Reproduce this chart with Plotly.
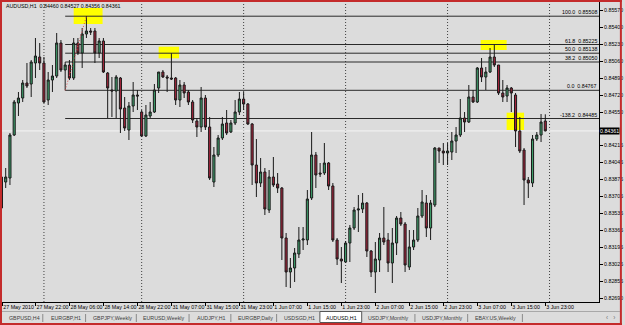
import plotly.graph_objects as go

# ---------------- data (AUDUSD H1, one value per bar, left to right) ----------------
opens = [.8390, .8385, .8389, .8432, .8464, .8469, .8484, .8483, .8504, .8510,
         .8504, .8467, .8487, .8491, .8524, .8497, .8502, .8489, .8524, .8514,
         .8533, .8536, .8536, .8514, .8526, .8494, .8477, .8476, .8489, .8459,
         .8437, .8461, .8472, .8455, .8431, .8451, .8455, .8479, .8495, .8490,
         .8489, .8489, .8467, .8482, .8475, .8465, .8446, .8440, .8469, .8440,
         .8385, .8412, .8429, .8444, .8435, .8444, .8455, .8468, .8463, .8443,
         .8402, .8384, .8395, .8357, .8390, .8383, .8379, .8329, .8295, .8299,
         .8313, .8327, .8327, .8369, .8412, .8394, .8394, .8404, .8381, .8327,
         .8308, .8305, .8324, .8339, .8357, .8358, .8364, .8316, .8295, .8307,
         .8329, .8327, .8304, .8324, .8349, .8343, .8300, .8320, .8327, .8351,
         .8364, .8339, .8362, .8419, .8416, .8414, .8415, .8426, .8432, .8449,
         .8445, .8470, .8465, .8499, .8490, .8495, .8510, .8502, .8474, .8471,
         .8479, .8472, .8436, .8417, .8387, .8384, .8428, .8432, .84460]
highs = [.8395, .8399, .8434, .8467, .8475, .8487, .8504, .8507, .8529, .8524,
         .8510, .8495, .8502, .8534, .8527, .8505, .8507, .8529, .8529, .8539,
         .85508, .8539, .8539, .8529, .8529, .8495, .8490, .8492, .8490, .8470,
         .8465, .8485, .8477, .8457, .8462, .8465, .8483, .8495, .8497, .8492,
         .85138, .8490, .8487, .8485, .8477, .8467, .8449, .8480, .8472, .8450,
         .8420, .8432, .8450, .8457, .8447, .8467, .8475, .8475, .8464, .8444,
         .8428, .8409, .8399, .8397, .8410, .8394, .8380, .8334, .8309, .8319,
         .8340, .8340, .8377, .8435, .8415, .8404, .8424, .8405, .8384, .8329,
         .8320, .8326, .8342, .8360, .8372, .8374, .8365, .8317, .8325, .8334,
         .8360, .8334, .8339, .8351, .8355, .8345, .8337, .8337, .8359, .8377,
         .8372, .8367, .8420, .8419, .8424, .8424, .8435, .8440, .8468, .8455,
         .8482, .8477, .8500, .8509, .8500, .8519, .85225, .8502, .8487, .8482,
         .8480, .8474, .8450, .8419, .8390, .8432, .8435, .8453, .84527]
lows = [.8355, .8379, .8382, .8431, .8451, .8465, .8479, .8470, .8489, .8497,
        .8464, .8462, .8475, .8489, .8495, .84767, .8487, .8487, .8512, .8499,
        .8529, .8532, .8504, .8509, .8494, .8449, .8450, .8449, .8434, .8436,
        .8427, .8455, .8457, .8430, .8430, .8449, .8454, .8474, .8489, .8475,
        .8487, .8462, .8460, .8469, .8462, .8444, .8430, .8435, .8437, .8387,
        .8380, .8410, .8427, .8432, .8434, .8442, .8452, .8457, .8442, .8382,
        .8370, .8380, .8352, .8354, .8380, .8374, .8307, .8280, .8279, .8285,
        .8309, .8317, .8322, .8367, .8379, .8390, .8392, .8377, .8325, .8302,
        .8284, .8304, .8305, .8337, .8335, .8354, .8310, .8290, .8274, .8295,
        .8322, .8295, .8284, .8312, .8341, .8295, .8297, .8317, .8325, .8349,
        .8330, .8327, .8360, .8404, .8402, .8402, .8407, .8414, .8430, .8435,
        .8444, .8464, .8464, .8485, .8477, .8494, .8500, .8472, .8465, .8465,
        .8455, .8420, .8414, .8362, .8369, .8380, .8426, .8425, .84356]
closes = [.8359, .8390, .8432, .8465, .8469, .8484, .8481, .8505, .8511, .8504,
          .8465, .8487, .8491, .8524, .8497, .8502, .8489, .8524, .8514, .8533,
          .8536, .8535, .8514, .8526, .8495, .8479, .8476, .8490, .8458, .8439,
          .8461, .8472, .8471, .8431, .8452, .8455, .8477, .8495, .8490, .8489,
          .8488, .8467, .8482, .8474, .8465, .8447, .8440, .8469, .8440, .8389,
          .8412, .8429, .8443, .8434, .8444, .8455, .8468, .8463, .8443, .8402,
          .8384, .8395, .8358, .8390, .8382, .8379, .8329, .8295, .8299, .8314,
          .8327, .8328, .8368, .8412, .8392, .8393, .8404, .8381, .8327, .8308,
          .8306, .8324, .8339, .8357, .8358, .8364, .8316, .8295, .8308, .8329,
          .8325, .8304, .8324, .8349, .8343, .8302, .8320, .8327, .8351, .8365,
          .8339, .8364, .8419, .8416, .8414, .8416, .8426, .8432, .8449, .8445,
          .8470, .8465, .8499, .8490, .8495, .8510, .8502, .8474, .8470, .8479,
          .8474, .8436, .8416, .8387, .8384, .8428, .8432, .8445, .84361]

time_tick_bars = [1.2, 9, 17, 25, 33, 41, 49, 57, 65, 73, 81, 89, 97, 105, 113, 121, 129]
time_tick_labels = ["27 May 2010", "27 May 22:00", "28 May 06:00", "28 May 14:00", "28 May 22:00",
                    "31 May 07:00", "31 May 15:00", "31 May 23:00", "1 Jun 07:00", "1 Jun 15:00",
                    "1 Jun 23:00", "2 Jun 07:00", "2 Jun 15:00", "2 Jun 23:00", "3 Jun 07:00",
                    "3 Jun 15:00", "3 Jun 23:00"]
day_start_bars = [11, 34, 58, 82, 106, 130]

# (0.84380 sits under the current-price box in the reference, so it is not shown)
price_ticks = [0.85570, 0.85400, 0.85230, 0.85060, 0.84890, 0.84720, 0.84550, 0.84215,
               0.84045, 0.83875, 0.83705, 0.83535, 0.83365, 0.83195, 0.83025, 0.82855, 0.82690]

fib_names = ["100.0", "61.8", "50.0", "38.2", "0.0", "-138.2"]
fib_levels = [0.85508, 0.85225, 0.85138, 0.85050, 0.84767, 0.84485]
fib_start_bar = 16
fib_anchor = [(16, 0.84767), (21, 0.85508)]

last_price = 0.84361
title_text = "AUDUSD,H1  0.84460 0.84527 0.84356 0.84361"

# highlighter boxes (bar from, bar to, price low, price high)
highlights = [(18.0, 24.8, 0.8543, 0.8559), (38.0, 42.8, 0.85087, 0.85203),
              (113.8, 119.9, 0.8517, 0.8527), (119.9, 124.0, 0.8437, 0.84543)]

tabs = ["GBPUSD,H4", "EURGBP,H1", "GBPJPY,Weekly", "EURUSD,Weekly", "AUDJPY,H1", "EURGBP,Daily",
        "USDSGD,H1", "AUDUSD,H1", "USDJPY,Monthly", "USDJPY,Monthly", "EBAY.US,Weekly"]
tab_text_x = [7, 49, 91, 142, 196, 237, 283, 326, 368, 422, 475]
tab_sep_x = [43, 86, 137, 190, 232, 278, 417, 470, 525]
active_tab = 7

# ---------------- layout helpers ----------------
W, H = 625, 325
PL, PR, PT, PB = 2, 602, 2, 302
XMIN, XMAX = 1.13, 141.64
YMIN, YMAX = 0.8265, 0.8565
FONT = "Liberation Sans"
FS = 5.3


def px(x):
    return (x - PL) / (PR - PL)


def py(y):
    return (PB - y) / (PB - PT)


bars = list(range(1, len(opens) + 1))

fig = go.Figure(go.Candlestick(
    x=bars, open=opens, high=highs, low=lows, close=closes,
    increasing=dict(fillcolor="#3E9E6B", line=dict(color="#1a1a1a", width=1)),
    decreasing=dict(fillcolor="#A3243B", line=dict(color="#1a1a1a", width=1)),
    whiskerwidth=0, hoverinfo="skip", showlegend=False))

shapes = []
for x0, x1, y0, y1 in highlights:
    shapes.append(dict(type="rect", xref="x", yref="y", x0=x0, x1=x1, y0=y0, y1=y1,
                       fillcolor="#FFFF00", line=dict(width=0), layer="below"))
for b in day_start_bars:
    shapes.append(dict(type="line", xref="x", yref="paper", x0=b, x1=b, y0=0, y1=1,
                       line=dict(color="#404040", width=1, dash="1px,2px"), layer="below"))
for lv in fib_levels:
    shapes.append(dict(type="line", xref="x", yref="y", x0=fib_start_bar, x1=XMAX, y0=lv, y1=lv,
                       line=dict(color="#2a2a2a", width=1), layer="below"))
shapes.append(dict(type="line", xref="paper", yref="y", x0=0, x1=1, y0=last_price, y1=last_price,
                   line=dict(color="#F4F4F4", width=1), layer="below"))
shapes.append(dict(type="line", xref="x", yref="y", x0=fib_anchor[0][0], y0=fib_anchor[0][1],
                   x1=fib_anchor[1][0], y1=fib_anchor[1][1],
                   line=dict(color="#E04848", width=1, dash="1px,2px")))
# tab bar
shapes.append(dict(type="line", xref="paper", yref="paper", x0=px(2), x1=px(623), y0=py(311.5), y1=py(311.5),
                   line=dict(color="#A8A8A8", width=1)))
for sx in tab_sep_x:
    shapes.append(dict(type="line", xref="paper", yref="paper", x0=px(sx), x1=px(sx), y0=py(314), y1=py(322),
                       line=dict(color="#8A8A8A", width=1)))
shapes.append(dict(type="rect", xref="paper", yref="paper", x0=px(321.5), x1=px(363.5), y0=py(322.5), y1=py(311.5),
                   fillcolor="#FFFFFF", line=dict(color="#555555", width=1)))
# window border
red = "#C42B2B"
for (a, b, c, d) in [(0, 625, 0, 2), (0, 625, 323, 325), (0, 2, 0, 325), (623, 625, 0, 325)]:
    shapes.append(dict(type="rect", xref="paper", yref="paper", x0=px(a), x1=px(b), y0=py(d), y1=py(c),
                       fillcolor=red, line=dict(width=0)))

ann = []
ann.append(dict(xref="paper", yref="paper", x=px(4), y=py(5.5), text=title_text, showarrow=False,
                xanchor="left", yanchor="middle", font=dict(family=FONT, size=FS, color="#000000")))
for name, lv in zip(fib_names, fib_levels):
    ann.append(dict(xref="paper", yref="y", x=px(601), y=lv, text=f"{name}  {lv:.5f}", showarrow=False,
                    xanchor="right", yanchor="bottom", borderpad=0,
                    font=dict(family=FONT, size=FS, color="#000000")))
ann.append(dict(xref="paper", yref="y", x=px(602.5), y=last_price, text=f"{last_price:.5f}", showarrow=False,
                xanchor="left", yanchor="middle", bgcolor="#000000", borderpad=0,
                font=dict(family=FONT, size=FS, color="#FFFFFF")))
for i, (t, tx) in enumerate(zip(tabs, tab_text_x)):
    ann.append(dict(xref="paper", yref="paper", x=px(tx), y=py(317.5), text=t, showarrow=False,
                    xanchor="left", yanchor="middle",
                    font=dict(family=FONT, size=FS, color="#000000" if i == active_tab else "#404040")))
ann.append(dict(xref="paper", yref="paper", x=px(613.5), y=py(317.5), text="\u2039   \u203a", showarrow=False,
                xanchor="center", yanchor="middle", font=dict(family=FONT, size=FS + 1, color="#777777")))

fig.update_layout(
    width=W, height=H, autosize=False,
    margin=dict(l=PL, r=W - PR, t=PT, b=H - PB, pad=0),
    paper_bgcolor="#DCDCDC", plot_bgcolor="#DCDCDC",
    font=dict(family=FONT, size=FS, color="#000000"),
    shapes=shapes, annotations=ann, showlegend=False,
    xaxis=dict(range=[XMIN, XMAX], rangeslider=dict(visible=False), showgrid=False, zeroline=False,
               showline=True, linecolor="#000000", linewidth=1, ticks="outside", ticklen=3,
               tickcolor="#000000", tickvals=time_tick_bars, ticktext=time_tick_labels, tickangle=0,
               ticklabelposition="outside right", tickfont=dict(family=FONT, size=FS, color="#000000"),
               fixedrange=True),
    yaxis=dict(range=[YMIN, YMAX], side="right", showgrid=False, zeroline=False, showline=True,
               linecolor="#000000", linewidth=1, ticks="outside", ticklen=3, tickcolor="#000000",
               tickvals=price_ticks, ticktext=[f"{p:.5f}" for p in price_ticks],
               tickfont=dict(family=FONT, size=FS, color="#000000"), fixedrange=True),
)

fig.write_html("out.html", config={"displayModeBar": False})
